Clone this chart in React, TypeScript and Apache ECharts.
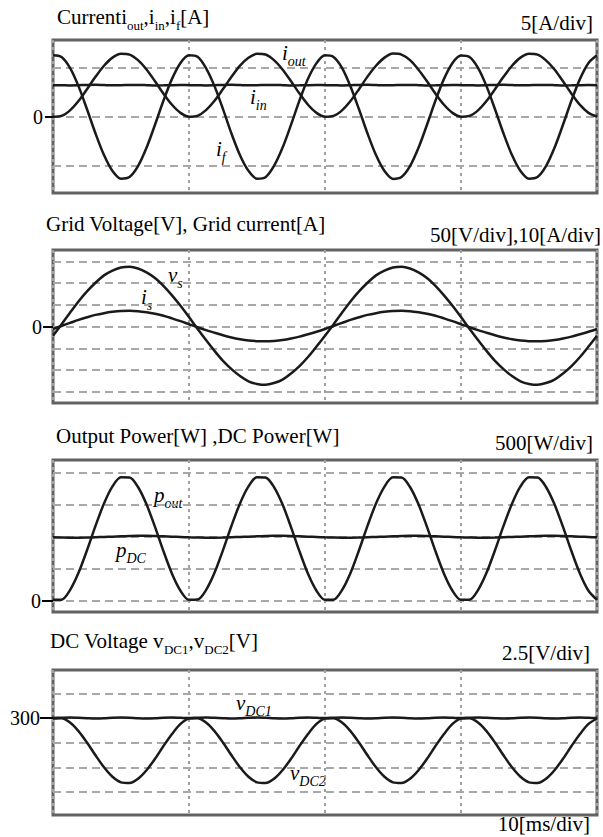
import React, { useEffect, useRef } from 'react';
import * as echarts from 'echarts';

// ---------- data (0.625 ms steps) ----------
const TIME_MS = [
  0, 0.625, 1.25, 1.875, 2.5, 3.125, 3.75, 4.375, 5, 5.625, 6.25, 6.875, 7.5, 8.125, 8.75, 9.375,
  10, 10.625, 11.25, 11.875, 12.5, 13.125, 13.75, 14.375, 15, 15.625, 16.25, 16.875, 17.5, 18.125, 18.75, 19.375,
  20, 20.625, 21.25, 21.875, 22.5, 23.125, 23.75, 24.375, 25, 25.625, 26.25, 26.875, 27.5, 28.125, 28.75, 29.375,
  30, 30.625, 31.25, 31.875, 32.5, 33.125, 33.75, 34.375, 35, 35.625, 36.25, 36.875, 37.5, 38.125, 38.75, 39.375,
  40,
];

// Panel 1: currents [A]
const I_OUT = [
  0.03, 0.11, 0.68, 1.63, 2.84, 4.10, 5.23, 6.06, 6.45, 6.37, 5.80, 4.85, 3.65, 2.38, 1.25, 0.42,
  0.03, 0.12, 0.70, 1.65, 2.85, 4.10, 5.25, 6.05, 6.45, 6.38, 5.80, 4.85, 3.65, 2.40, 1.25, 0.42,
  0.03, 0.11, 0.68, 1.63, 2.84, 4.12, 5.23, 6.06, 6.47, 6.37, 5.80, 4.83, 3.65, 2.38, 1.25, 0.42,
  0.03, 0.11, 0.68, 1.63, 2.84, 4.10, 5.23, 6.06, 6.45, 6.37, 5.78, 4.85, 3.65, 2.38, 1.23, 0.42,
  0.03,
];
const I_IN = [
  3.25, 3.24, 3.22, 3.24, 3.27, 3.28, 3.26, 3.24, 3.25, 3.26, 3.27, 3.25, 3.22, 3.23, 3.25, 3.26,
  3.25, 3.24, 3.22, 3.24, 3.27, 3.28, 3.26, 3.24, 3.25, 3.26, 3.27, 3.25, 3.22, 3.23, 3.25, 3.26,
  3.25, 3.24, 3.22, 3.24, 3.27, 3.28, 3.26, 3.24, 3.25, 3.26, 3.27, 3.25, 3.22, 3.23, 3.25, 3.26,
  3.25, 3.24, 3.22, 3.24, 3.27, 3.28, 3.26, 3.24, 3.25, 3.26, 3.27, 3.25, 3.22, 3.23, 3.25, 3.26,
  3.25,
];
const I_F = [
  6.30, 6.13, 5.02, 3.15, 0.79, -1.68, -3.89, -5.52, -6.30, -6.13, -5.02, -3.15, -0.79, 1.68, 3.89, 5.52,
  6.30, 6.15, 5.00, 3.15, 0.80, -1.70, -3.90, -5.50, -6.30, -6.15, -5.00, -3.15, -0.80, 1.70, 3.90, 5.50,
  6.30, 6.13, 5.02, 3.12, 0.79, -1.68, -3.89, -5.52, -6.32, -6.13, -5.02, -3.15, -0.79, 1.68, 3.89, 5.52,
  6.28, 6.13, 5.02, 3.15, 0.79, -1.68, -3.89, -5.52, -6.30, -6.13, -5.02, -3.15, -0.79, 1.68, 3.89, 5.52,
  6.30,
];

// Panel 2: grid voltage [V], grid current [A]
const V_S = [
  -21, 5, 32, 58, 81, 101, 118, 129, 136, 138, 134, 125, 112, 94, 72, 48,
  22, -5, -31, -56, -79, -98, -114, -126, -132, -134, -130, -122, -108, -91, -70, -46,
  -21, 5, 32, 58, 81, 101, 118, 129, 136, 138, 134, 125, 112, 94, 72, 48,
  22, -5, -31, -56, -79, -98, -114, -126, -132, -134, -130, -122, -108, -91, -70, -46,
  -21,
];
const I_S = [
  -1.1, 0.3, 1.7, 3.1, 4.3, 5.4, 6.2, 6.8, 7.2, 7.3, 7.1, 6.6, 5.9, 5.0, 3.8, 2.5,
  1.1, -0.3, -1.6, -2.8, -4.0, -5.0, -5.8, -6.4, -6.7, -6.8, -6.6, -6.2, -5.5, -4.6, -3.5, -2.4,
  -1.1, 0.3, 1.7, 3.1, 4.3, 5.4, 6.2, 6.8, 7.2, 7.3, 7.1, 6.6, 5.9, 5.0, 3.8, 2.5,
  1.1, -0.3, -1.6, -2.8, -4.0, -5.0, -5.8, -6.4, -6.7, -6.8, -6.6, -6.2, -5.5, -4.6, -3.5, -2.4,
  -1.1,
];

// Panel 3: output power, DC power [W]
const P_OUT = [
  18, 20, 169, 440, 793, 1173, 1523, 1790, 1932, 1930, 1781, 1510, 1157, 777, 427, 160,
  18, 22, 170, 440, 795, 1175, 1525, 1790, 1935, 1930, 1780, 1510, 1155, 775, 425, 160,
  18, 20, 169, 438, 793, 1173, 1523, 1788, 1932, 1930, 1781, 1510, 1157, 777, 427, 160,
  18, 20, 169, 440, 793, 1173, 1520, 1790, 1932, 1928, 1781, 1510, 1157, 777, 427, 160,
  18,
];
const P_DC = [
  995, 992, 990, 990, 992, 996, 1000, 1005, 1010, 1015, 1018, 1018, 1015, 1010, 1005, 1000,
  995, 992, 990, 990, 992, 996, 1000, 1005, 1010, 1015, 1018, 1018, 1015, 1010, 1005, 1000,
  995, 992, 990, 990, 992, 996, 1000, 1005, 1010, 1015, 1018, 1018, 1015, 1010, 1005, 1000,
  995, 992, 990, 990, 992, 996, 1000, 1005, 1010, 1015, 1018, 1018, 1015, 1010, 1005, 1000,
  995,
];

// Panel 4: DC voltages [V]
const V_DC1 = [
  300, 300.03, 300.05, 300.02, 299.98, 299.95, 299.97, 300.02, 300.04, 300.02, 299.98, 299.96, 299.98, 300.02, 300.04, 300.02,
  300, 300.03, 300.05, 300.02, 299.98, 299.95, 299.97, 300.02, 300.04, 300.02, 299.98, 299.96, 299.98, 300.02, 300.04, 300.02,
  300, 300.03, 300.05, 300.02, 299.98, 299.95, 299.97, 300.02, 300.04, 300.02, 299.98, 299.96, 299.98, 300.02, 300.04, 300.02,
  300, 300.03, 300.05, 300.02, 299.98, 299.95, 299.97, 300.02, 300.04, 300.02, 299.98, 299.96, 299.98, 300.02, 300.04, 300.02,
  300,
];
const V_DC2 = [
  299.95, 299.98, 299.55, 298.68, 297.52, 296.23, 295.02, 294.06, 293.50, 293.43, 293.86, 294.72, 295.88, 297.17, 298.38, 299.40,
  299.95, 299.98, 299.55, 298.68, 297.52, 296.23, 295.02, 294.06, 293.50, 293.43, 293.86, 294.72, 295.88, 297.17, 298.38, 299.40,
  299.95, 299.98, 299.55, 298.68, 297.52, 296.23, 295.02, 294.06, 293.50, 293.43, 293.86, 294.72, 295.88, 297.17, 298.38, 299.40,
  299.95, 299.98, 299.55, 298.68, 297.52, 296.23, 295.02, 294.06, 293.50, 293.43, 293.86, 294.72, 295.88, 297.17, 298.38, 299.40,
  299.95,
];

// scales (units per division)
const VS_PER_DIV = 50;
const IS_PER_DIV = 10;

// horizontal graticule levels per panel
const P1_GRIDLINES = [-5, 0, 5];
const P2_GRIDLINES = [-3, -2, -1, 0, 1, 2, 3];
const P3_GRIDLINES = [0, 500, 1000, 1500, 2000];
const P4_GRIDLINES = [292.5, 295, 297.5, 300, 302.5];

const Y_TICK_VALUES = [0, 0, 0, 300];
const Y_TICK_LABELS = ['0', '0', '0', '300'];

// ---------- styling / layout ----------
const SERIF = '"Liberation Serif", "Times New Roman", serif';
const TRACE = '#1a1a1a';

const PANELS = [
  { top: 40, height: 153, min: -7.76, max: 7.86, lines: P1_GRIDLINES, tick: 8, margin: 10 },
  { top: 250, height: 153, min: -3.52, max: 3.53, lines: P2_GRIDLINES, tick: 10, margin: 11 },
  { top: 460, height: 152, min: -172, max: 2203, lines: P3_GRIDLINES, tick: 11, margin: 12 },
  { top: 670, height: 145, min: 290.2, max: 304.85, lines: P4_GRIDLINES, tick: 13, margin: 13 },
];

const RICH = {
  n: { fontFamily: SERIF, fontSize: 21, lineHeight: 26, verticalAlign: 'top', fill: '#000' },
  s: { fontFamily: SERIF, fontSize: 13, lineHeight: 13, verticalAlign: 'bottom', fill: '#000' },
  i: { fontFamily: SERIF, fontSize: 21, fontStyle: 'italic', lineHeight: 26, verticalAlign: 'top', fill: '#000' },
  is: { fontFamily: SERIF, fontSize: 14, fontStyle: 'italic', lineHeight: 14, verticalAlign: 'bottom', fill: '#000' },
};

function txt(text: string, x: number, y: number, align: 'left' | 'right' = 'left') {
  return {
    type: 'text',
    x,
    y,
    silent: true,
    style: { text, rich: RICH, align, verticalAlign: 'middle', fill: '#000', font: `21px ${SERIF}` },
  };
}

function pairs(ys: number[], scale = 1) {
  return TIME_MS.map((t, i) => [t, ys[i] / scale]);
}

function trace(k: number, data: number[][]) {
  return {
    type: 'line',
    xAxisIndex: k,
    yAxisIndex: k,
    data,
    showSymbol: false,
    smooth: 0.3,
    z: 10,
    lineStyle: { color: TRACE, width: 2.5 },
    emphasis: { disabled: true },
  };
}

function buildOption() {
  const grid = PANELS.map((p) => ({
    left: 53,
    width: 544,
    top: p.top,
    height: p.height,
    show: true,
    borderColor: '#626262',
    borderWidth: 3,
    backgroundColor: 'transparent',
  }));
  const xAxis = PANELS.map((_, k) => ({
    type: 'value',
    gridIndex: k,
    min: 0,
    max: 40,
    interval: 10,
    axisLine: { show: false },
    axisTick: { show: false },
    axisLabel: { show: false },
    splitLine: { show: true, lineStyle: { color: '#a0a0a0', width: 2, type: [3, 4] } },
  }));
  const yAxis = PANELS.map((p, k) => ({
    type: 'value',
    gridIndex: k,
    min: p.min,
    max: p.max,
    axisLine: { show: false },
    splitLine: { show: false },
    axisTick: {
      show: true,
      inside: false,
      length: p.tick,
      customValues: [Y_TICK_VALUES[k]],
      lineStyle: { color: '#000', width: 2 },
    },
    axisLabel: {
      customValues: [Y_TICK_VALUES[k]],
      formatter: () => Y_TICK_LABELS[k],
      fontFamily: SERIF,
      fontSize: 20,
      color: '#000',
      margin: p.margin,
    },
  }));

  const gridSeries = PANELS.map((p, k) => ({
    type: 'line',
    xAxisIndex: k,
    yAxisIndex: k,
    data: [],
    silent: true,
    z: 1,
    markLine: {
      z: 1,
      symbol: 'none',
      silent: true,
      animation: false,
      label: { show: false },
      lineStyle: { color: '#a8a8a8', width: 2, type: [8, 5] },
      emphasis: { disabled: true },
      data: p.lines.map((v) => ({ yAxis: v })),
    },
  }));

  const series = [
    ...gridSeries,
    trace(0, pairs(I_OUT)),
    trace(0, pairs(I_IN)),
    trace(0, pairs(I_F)),
    trace(1, pairs(V_S, VS_PER_DIV)),
    trace(1, pairs(I_S, IS_PER_DIV)),
    trace(2, pairs(P_OUT)),
    trace(2, pairs(P_DC)),
    trace(3, pairs(V_DC1)),
    trace(3, pairs(V_DC2)),
  ];

  const graphic = [
    txt('{n|Currenti}{s|out}{n|,i}{s|in}{n|,i}{s|f}{n|[A]}', 57, 19),
    txt('{n|5[A/div]}', 593, 25, 'right'),
    txt('{n|Grid Voltage[V], Grid current[A]}', 46, 226),
    txt('{n|50[V/div],10[A/div]}', 601, 237, 'right'),
    txt('{n|Output Power[W] ,DC Power[W]}', 56, 438),
    txt('{n|500[W/div]}', 593, 445, 'right'),
    txt('{n|DC Voltage v}{s|DC1}{n|,v}{s|DC2}{n|[V]}', 50, 643),
    txt('{n|2.5[V/div]}', 590, 655, 'right'),
    txt('{n|10[ms/div]}', 590, 826, 'right'),
    // trace annotations
    txt('{i|i}{is|out}', 282, 55),
    txt('{i|i}{is|in}', 250, 99),
    txt('{i|i}{is|f}', 216, 151),
    txt('{i|v}{is|s}', 168, 277),
    txt('{i|i}{is|s}', 141, 299),
    txt('{i|p}{is|out}', 154, 497),
    txt('{i|p}{is|DC}', 116, 552),
    txt('{i|v}{is|DC1}', 236, 705),
    txt('{i|v}{is|DC2}', 290, 775),
  ];

  return {
    animation: false,
    backgroundColor: '#fff',
    grid,
    xAxis,
    yAxis,
    series,
    graphic,
  };
}

export default function App() {
  const ref = useRef<HTMLDivElement>(null);
  useEffect(() => {
    if (!ref.current) return;
    const chart = echarts.init(ref.current, null, { renderer: 'svg' });
    chart.setOption(buildOption() as any);
    return () => chart.dispose();
  }, []);
  return (
    <div
      ref={ref}
      style={{ position: 'absolute', left: 0, top: 0, width: 603, height: 837, background: '#fff' }}
    />
  );
}
